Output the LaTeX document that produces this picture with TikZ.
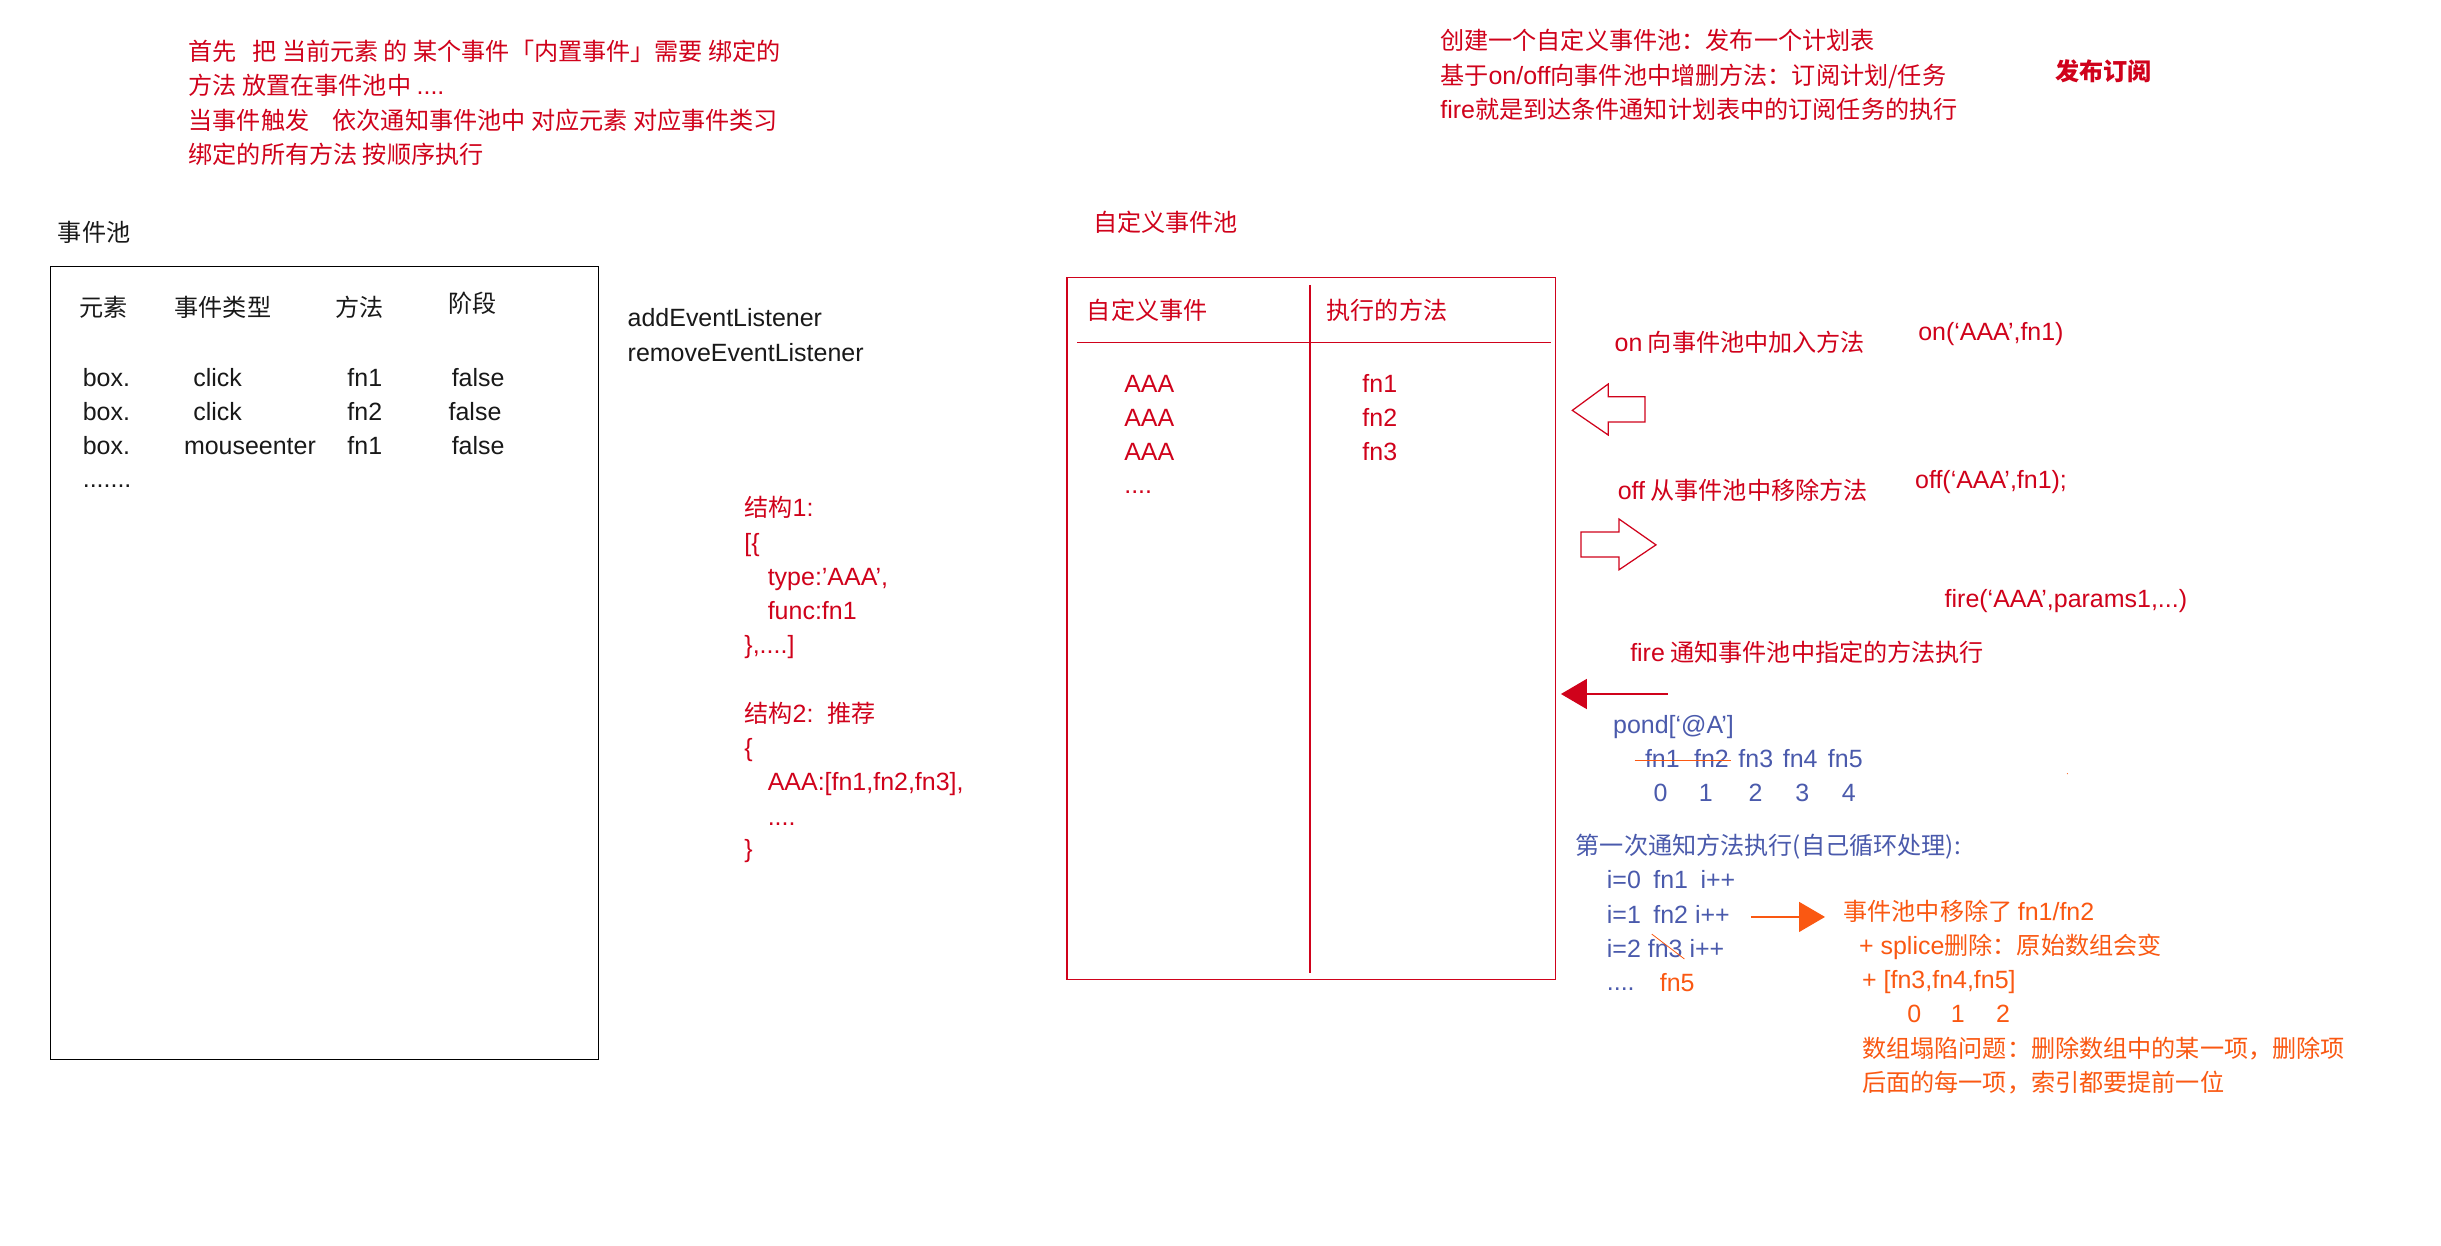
\documentclass[tikz,border=0pt]{standalone}
\usepackage{fontspec}
\setmainfont{Noto Sans CJK SC}
\newfontfamily\latf{Liberation Sans}[Scale=1.035]
\usetikzlibrary{arrows.meta}
\definecolor{cred}{RGB}{208,2,27}
\definecolor{cblue}{RGB}{74,90,172}
\definecolor{corange}{RGB}{250,88,18}
\newcommand\Lx[1]{{\latf #1}}
\begin{document}
\begin{tikzpicture}[x=1pt,y=-1pt,
  tx/.style={font=\fontsize{15.5}{18}\selectfont, inner sep=0pt, anchor=base west},
  kt/.style={tx, text=black!90},
  rt/.style={tx, text=cred},
  bt/.style={tx, text=cblue},
  ot/.style={tx, text=corange},
  thinline/.style={line width=0.8pt},
]
\useasboundingbox (0,0) rectangle (1568,800);
\fill[white] (0,0) rectangle (1568,800);

% ---------- top-left explanation ----------
\node[rt] (intro1) at (121,39) {首先\hspace{10pt}把 当前元素 的 某个事件「内置事件」需要 绑定的};
\node[rt] (intro2) at (121,61) {方法 放置在事件池中 \Lx{....}};
\node[rt] (intro3) at (121,83) {当事件触发\hspace{15pt}依次通知事件池中 对应元素 对应事件类习};
\node[rt] (intro4) at (121,105) {绑定的所有方法 按顺序执行};

% ---------- top-right explanation ----------
\node[rt] (plan1) at (925,32) {创建一个自定义事件池：发布一个计划表};
\node[rt] (plan2) at (925,54) {基于\Lx{on/off}向事件池中增删方法：订阅计划/任务};
\node[rt] (plan3) at (925,76) {\Lx{fire}就是到达条件通知计划表中的订阅任务的执行};
\node[rt, font=\fontsize{15.5}{18}\selectfont\bfseries] (pubsub) at (1320,52) {发布订阅};

% ---------- built-in event pool ----------
\node[kt] (pooltitle) at (37,155) {事件池};
\node[draw, thinline, inner sep=0pt, anchor=north west,
      minimum width=352pt, minimum height=509pt] (pool) at (32,171) {};
\node[kt] (h1) at (51,203) {元素};
\node[kt] (h2) at (112,203) {事件类型};
\node[kt] (h3) at (215,203) {方法};
\node[kt] (h4) at (288,201) {阶段};
\node[kt] (r1a) at (53,248) {\Lx{box.}};
\node[kt] (r1b) at (124,248) {\Lx{click}};
\node[kt] (r1c) at (223,248) {\Lx{fn1}};
\node[kt] (r1d) at (290,248) {\Lx{false}};
\node[kt] (r2a) at (53,270) {\Lx{box.}};
\node[kt] (r2b) at (124,270) {\Lx{click}};
\node[kt] (r2c) at (223,270) {\Lx{fn2}};
\node[kt] (r2d) at (288,270) {\Lx{false}};
\node[kt] (r3a) at (53,292) {\Lx{box.}};
\node[kt] (r3b) at (118,292) {\Lx{mouseenter}};
\node[kt] (r3c) at (223,292) {\Lx{fn1}};
\node[kt] (r3d) at (290,292) {\Lx{false}};
\node[kt] (r4a) at (53,313) {\Lx{.......}};

\node[kt] (add) at (403,210) {\Lx{addEventListener}};
\node[kt] (rem) at (403,232) {\Lx{removeEventListener}};

% ---------- structures ----------
\node[rt] (s1) at (478,332) {结构\Lx{1:}};
\node[rt] (s2) at (478,354) {\Lx{[\{}};
\node[rt] (s3) at (493,376) {\Lx{type:’AAA’,}};
\node[rt] (s4) at (493,398) {\Lx{func:fn1}};
\node[rt] (s5) at (478,420) {\Lx{\},....]}};
\node[rt] (s6) at (478,464) {结构\Lx{2:}\hspace{9pt}推荐};
\node[rt] (s7) at (478,486) {\Lx{\{}};
\node[rt] (s8) at (493,508) {\Lx{AAA:[fn1,fn2,fn3],}};
\node[rt] (s9) at (493,530) {\Lx{....}};
\node[rt] (s10) at (478,551) {\Lx{\}}};

% ---------- custom event pool ----------
\node[rt] (ctitle) at (702,149) {自定义事件池};
\node[draw=cred, thinline, inner sep=0pt, anchor=north west,
      minimum width=314pt, minimum height=451pt] (cpool) at (685,178) {};
\draw[cred, thinline] (692,220) -- (996,220);
\draw[cred, thinline] (841.5,183) -- (841.5,625);
\node[rt] (ch1) at (698,205) {自定义事件};
\node[rt] (ch2) at (852,205) {执行的方法};
\node[rt] (ca1) at (722,252) {\Lx{AAA}};
\node[rt] (ca2) at (722,274) {\Lx{AAA}};
\node[rt] (ca3) at (722,296) {\Lx{AAA}};
\node[rt] (ca4) at (722,317) {\Lx{....}};
\node[rt] (cf1) at (875,252) {\Lx{fn1}};
\node[rt] (cf2) at (875,274) {\Lx{fn2}};
\node[rt] (cf3) at (875,296) {\Lx{fn3}};

% ---------- on / off / fire ----------
\node[rt] (on1) at (1037,226) {\Lx{on} 向事件池中加入方法};
\node[rt] (on2) at (1232,219) {\Lx{on(‘AAA’,fn1)}};
\draw[cred, thinline, line join=miter]
  (1010,263.6) -- (1033,246.7) -- (1033,254.8) -- (1056.6,254.8)
  -- (1056.6,271.1) -- (1033,271.1) -- (1033,279.4) -- cycle;
\node[rt] (off1) at (1039,321) {\Lx{off} 从事件池中移除方法};
\node[rt] (off2) at (1230,314) {\Lx{off(‘AAA’,fn1);}};
\draw[cred, thinline, line join=miter]
  (1063.7,350) -- (1040,333.4) -- (1040,341.7) -- (1015.6,341.7)
  -- (1015.6,357.8) -- (1040,357.8) -- (1040,366) -- cycle;
\node[rt] (fire2) at (1249,390) {\Lx{fire(‘AAA’,params1,...)}};
\node[rt] (fire1) at (1047,425) {\Lx{fire} 通知事件池中指定的方法执行};
\coordinate (fireS) at (1071.4,445.8);
\coordinate (fireE) at (1002.7,445.8);
\draw[cred, thinline, -{Triangle[length=16.7pt,width=19.4pt]}] (fireS) -- (fireE);

% ---------- pond example (blue) ----------
\node[bt] (pond) at (1036,471) {\Lx{pond[‘@A’]}};
\node[bt] (p1) at (1056.5,493) {\Lx{fn1}};
\node[bt] (p2) at (1088,493) {\Lx{fn2}};
\node[bt] (p3) at (1116.5,493) {\Lx{fn3}};
\node[bt] (p4) at (1145,493) {\Lx{fn4}};
\node[bt] (p5) at (1174,493) {\Lx{fn5}};
\draw[corange, line width=0.9pt] (1050,488.6) -- (1112,488.6);
\node[bt] (d0) at (1062,515) {\Lx{0}};
\node[bt] (d1) at (1091,515) {\Lx{1}};
\node[bt] (d2) at (1123,515) {\Lx{2}};
\node[bt] (d3) at (1153,515) {\Lx{3}};
\node[bt] (d4) at (1183,515) {\Lx{4}};
\fill[corange] (1328,497) circle (0.4pt);

\node[bt] (loop) at (1012,549) {第一次通知方法执行(自己循环处理):};
\node[bt] (i0) at (1032,571) {\Lx{i=0\hspace{8pt}fn1\hspace{8pt}i++}};
\node[bt] (i1) at (1032,593) {\Lx{i=1\hspace{8pt}fn2 i++}};
\node[bt] (i2) at (1032,615) {\Lx{i=2 fn3 i++}};
\node[bt] (i3) at (1032,636) {\Lx{....}};
\node[ot] (i3b) at (1066,637) {\Lx{fn5}};
\draw[corange, line width=0.5pt] (1061,600) -- (1082,616);

% ---------- orange explanation ----------
\coordinate (oaS) at (1124.7,589);
\coordinate (oaE) at (1172.3,589);
\draw[corange, thinline, -{Triangle[length=16.7pt,width=19.3pt]}] (oaS) -- (oaE);
\node[ot] (o1) at (1184,591) {事件池中移除了 \Lx{fn1/fn2}};
\node[ot] (o2) at (1194,613) {\Lx{+ splice}删除：原始数组会变};
\node[ot] (o3) at (1196,635) {\Lx{+ [fn3,fn4,fn5]}};
\node[ot] (o4a) at (1225,657) {\Lx{0}};
\node[ot] (o4b) at (1253,657) {\Lx{1}};
\node[ot] (o4c) at (1282,657) {\Lx{2}};
\node[ot] (o5) at (1196,679) {数组塌陷问题：删除数组中的某一项，删除项};
\node[ot] (o6) at (1196,701) {后面的每一项，索引都要提前一位};
\end{tikzpicture}
\end{document}
